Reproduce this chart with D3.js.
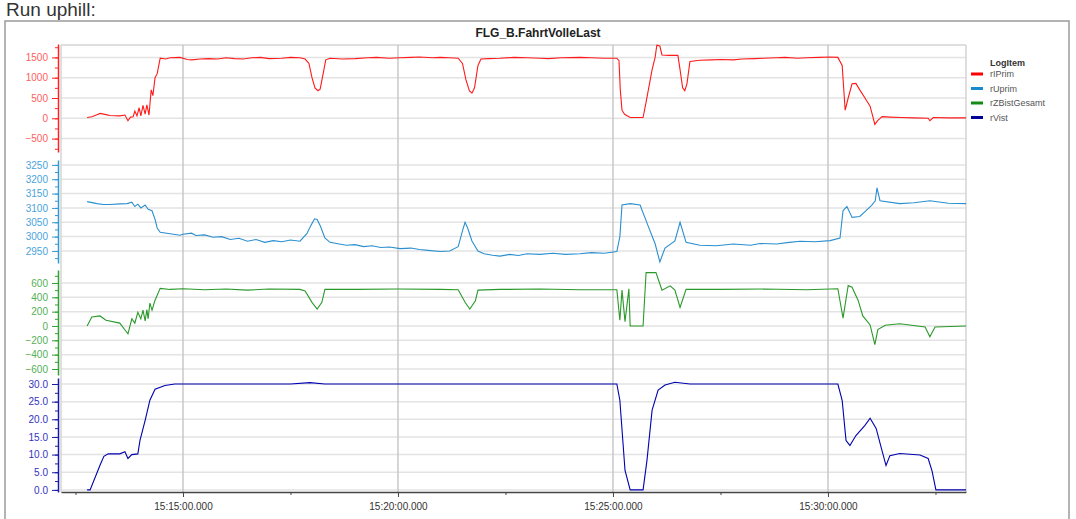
<!DOCTYPE html>
<html>
<head>
<meta charset="utf-8">
<script src="https://cdn.jsdelivr.net/npm/d3@7"></script>
<style>
  body { margin: 0; background: #fff; font-family: "Liberation Sans", Arial, sans-serif; }
</style>
</head>
<body>
<div id="chart"></div>
<script>
// values, time = minutes after 15:00
var rIPrim = [[12.77,20],[12.88,40],[13.00,90],[13.07,120],[13.21,90],[13.30,70],[13.53,60],[13.65,80],[13.72,-60],[13.78,30],[13.84,40],[13.88,180],[13.93,60],[13.98,260],[14.02,60],[14.07,320],[14.12,100],[14.16,330],[14.21,80],[14.26,700],[14.30,560],[14.35,1000],[14.40,1100],[14.47,1480],[14.60,1460],[14.70,1490],[14.93,1500],[15.10,1450],[15.20,1440],[15.40,1460],[15.60,1470],[15.80,1460],[16.00,1490],[16.20,1470],[16.40,1460],[16.60,1490],[16.80,1500],[17.00,1470],[17.30,1480],[17.50,1500],[17.72,1490],[17.84,1460],[17.93,1350],[18.00,1000],[18.07,750],[18.14,680],[18.19,720],[18.26,1100],[18.32,1440],[18.42,1480],[18.70,1460],[19.00,1470],[19.30,1490],[19.50,1500],[19.80,1480],[20.05,1490],[20.30,1500],[20.50,1510],[20.80,1490],[20.98,1500],[21.20,1490],[21.40,1480],[21.50,1350],[21.58,950],[21.66,680],[21.72,620],[21.78,750],[21.86,1300],[21.93,1460],[22.10,1470],[22.37,1480],[22.70,1500],[23.00,1490],[23.30,1480],[23.50,1470],[23.80,1490],[24.23,1500],[24.50,1490],[24.80,1480],[25.09,1480],[25.14,1420],[25.17,700],[25.21,200],[25.27,100],[25.40,20],[25.70,20],[25.77,400],[25.91,1200],[25.98,1500],[26.02,1800],[26.09,1780],[26.14,1560],[26.30,1550],[26.51,1550],[26.56,1200],[26.62,750],[26.67,680],[26.72,850],[26.79,1400],[27.02,1430],[27.30,1440],[27.50,1450],[27.80,1440],[28.00,1460],[28.30,1470],[28.50,1480],[28.80,1490],[29.00,1500],[29.30,1480],[29.50,1490],[29.80,1500],[30.05,1510],[30.23,1500],[30.33,1300],[30.40,200],[30.47,500],[30.56,850],[30.65,860],[30.74,700],[30.86,500],[30.98,300],[31.09,-150],[31.16,-50],[31.26,40],[31.44,30],[31.70,20],[32.00,10],[32.33,0],[32.37,-60],[32.45,20],[32.80,10],[33.21,10]]

var rUprim = [[12.77,3122],[13.00,3115],[13.15,3112],[13.30,3112],[13.53,3114],[13.70,3115],[13.81,3120],[13.88,3105],[13.95,3113],[14.02,3100],[14.12,3110],[14.19,3095],[14.28,3090],[14.35,3060],[14.40,3030],[14.47,3015],[14.70,3010],[14.93,3005],[15.00,3008],[15.20,3012],[15.30,3004],[15.50,3006],[15.70,2998],[15.90,3000],[16.10,2990],[16.30,2994],[16.50,2984],[16.70,2990],[16.90,2980],[17.10,2986],[17.30,2982],[17.50,2988],[17.72,2984],[17.88,3010],[17.98,3040],[18.06,3062],[18.12,3060],[18.20,3035],[18.30,2995],[18.42,2980],[18.60,2975],[18.80,2970],[19.00,2972],[19.20,2965],[19.40,2968],[19.60,2962],[19.80,2964],[20.05,2958],[20.30,2960],[20.50,2955],[20.70,2952],[20.98,2948],[21.20,2950],[21.40,2965],[21.50,3020],[21.56,3050],[21.62,3030],[21.72,2985],[21.86,2950],[22.00,2940],[22.20,2935],[22.37,2932],[22.60,2938],[22.80,2934],[23.00,2940],[23.30,2938],[23.60,2942],[23.90,2938],[24.23,2940],[24.50,2944],[24.80,2942],[25.09,2948],[25.16,3000],[25.21,3110],[25.40,3115],[25.63,3110],[25.81,3040],[25.98,2975],[26.09,2912],[26.21,2960],[26.44,2985],[26.56,3050],[26.70,2980],[27.02,2970],[27.40,2968],[27.80,2974],[28.20,2970],[28.42,2976],[28.80,2974],[29.10,2980],[29.35,2984],[29.70,2982],[30.05,2986],[30.28,2995],[30.35,3090],[30.44,3105],[30.56,3067],[30.74,3070],[30.88,3090],[31.02,3110],[31.10,3125],[31.14,3170],[31.21,3125],[31.67,3115],[32.00,3118],[32.37,3125],[32.80,3116],[33.21,3115]]

var rZBistGesamt = [[12.77,0],[12.88,125],[13.07,140],[13.21,80],[13.53,40],[13.67,-70],[13.72,-110],[13.81,100],[13.88,40],[13.95,190],[14.02,100],[14.07,220],[14.12,70],[14.16,230],[14.19,100],[14.23,320],[14.28,220],[14.35,360],[14.47,525],[14.70,510],[15.00,520],[15.50,505],[16.00,515],[16.50,500],[17.00,515],[17.72,510],[17.84,490],[18.00,330],[18.12,235],[18.23,330],[18.30,510],[19.00,510],[20.00,515],[20.98,510],[21.40,505],[21.56,330],[21.67,235],[21.80,350],[21.86,500],[22.37,510],[23.30,515],[24.23,505],[25.09,505],[25.16,80],[25.21,500],[25.28,60],[25.37,520],[25.40,0],[25.70,0],[25.77,745],[26.00,745],[26.14,500],[26.33,560],[26.44,500],[26.56,260],[26.70,510],[27.50,510],[28.50,515],[29.50,505],[30.23,520],[30.35,110],[30.47,565],[30.56,540],[30.70,360],[30.81,140],[30.98,15],[31.09,-260],[31.16,-50],[31.33,10],[31.67,30],[32.26,-15],[32.37,-150],[32.49,-15],[33.21,0]]

var rVist = [[12.77,0],[12.84,0],[13.07,7],[13.16,9.5],[13.26,10.2],[13.53,10.2],[13.65,10.8],[13.72,8.9],[13.81,10.0],[13.95,10.2],[14.00,14],[14.12,19.7],[14.23,25.4],[14.35,28.5],[14.58,29.6],[14.81,30],[15.50,30],[17.50,30],[17.95,30.4],[18.30,30],[20.00,30],[22.00,30],[24.00,30],[25.09,30],[25.16,25.4],[25.28,5.5],[25.40,0],[25.70,0],[25.79,8.3],[25.91,22.6],[26.05,28.3],[26.21,29.7],[26.44,30.5],[26.79,30],[28.00,30],[30.23,30],[30.33,25.4],[30.42,14],[30.51,12.6],[30.65,15.4],[30.86,18.3],[30.98,20.3],[31.12,17.4],[31.26,11],[31.35,6.9],[31.44,9.7],[31.67,10.3],[32.14,9.9],[32.33,8.9],[32.42,5.4],[32.51,0],[33.21,0]]

var seriesNames = ["rIPrim", "rUprim", "rZBistGesamt", "rVist"]
var seriesData = [rIPrim, rUprim, rZBistGesamt, rVist]
var majorTicks = [[-500,0,500,1000,1500],[2950,3000,3050,3100,3150,3200,3250],[-600,-400,-200,0,200,400,600],[0,5,10,15,20,25,30]]
var minorSteps = [250, 25, 100, 2.5]
var timeTicks = [15, 20, 25, 30]
var timeMinor = [12.5, 17.5, 22.5, 27.5, 32.5]

// layout
var svgWidth = 1076
var svgHeight = 519
var plotLeft = 61, plotRight = 966, plotTop = 45, plotBottom = 492
var axisX = 58
var panelDomains = [[-830,1830],[2908,3267],[-684,781],[-0.6,31.7]]
var panelRanges = [[152,44],[263,160],[375,270],[492,378]]
var lineColors = ["#ff1a1a", "#2b8fcf", "#2a992a", "#0000b0"]
var axisColors = ["#ff2222", "#3399d4", "#33a033", "#1a1aa8"]
var labelColors = ["#ff6060", "#4aa3dc", "#55b055", "#3333c0"]
var legendColors = ["#ff0000", "#1a8ad0", "#138a13", "#000099"]
var labelFormats = [d3.format("d"), d3.format("d"), d3.format("d"), d3.format(".1f")]

var base = new Date(2020, 0, 1, 15, 0, 0)
function toDate(m) { return new Date(base.getTime() + m * 60000) }

var svg = d3.select("#chart").append("svg")
    .attr("width", svgWidth)
    .attr("height", svgHeight)

// heading + frame
svg.append("text")
    .attr("x", 6).attr("y", 16)
    .style("font-size", "19px").style("fill", "#333")
    .text("Run uphill:")

svg.append("rect")
    .attr("x", 5).attr("y", 21)
    .attr("width", 1064).attr("height", 520)
    .attr("fill", "none").attr("stroke", "#9a9a9a").attr("stroke-width", 1.5)

svg.append("text")
    .attr("x", 538).attr("y", 37)
    .attr("text-anchor", "middle")
    .style("font-size", "12px").style("font-weight", "bold").style("fill", "#222")
    .text("FLG_B.FahrtVolleLast")

var x = d3.scaleTime()
    .domain([toDate(12.163), toDate(33.21)])
    .range([plotLeft, plotRight])

// horizontal grid per panel
var yScales = []
for (var i = 0; i < 4; ++i) {
    var y = d3.scaleLinear().domain(panelDomains[i]).range(panelRanges[i])
    yScales.push(y)
    svg.append("g").selectAll("line")
        .data(majorTicks[i])
        .enter().append("line")
        .attr("x1", plotLeft).attr("x2", plotRight)
        .attr("y1", function(d) { return y(d) })
        .attr("y2", function(d) { return y(d) })
        .attr("stroke", "#e3e3e3").attr("stroke-width", 1.5)
}

// plot border
svg.append("line").attr("x1", plotLeft).attr("x2", plotRight).attr("y1", plotTop).attr("y2", plotTop)
    .attr("stroke", "#d4d4d4").attr("stroke-width", 1.5)
svg.append("line").attr("x1", plotLeft).attr("x2", plotLeft).attr("y1", plotTop).attr("y2", plotBottom)
    .attr("stroke", "#d4d4d4").attr("stroke-width", 1.5)
svg.append("line").attr("x1", plotRight).attr("x2", plotRight).attr("y1", plotTop).attr("y2", plotBottom)
    .attr("stroke", "#d4d4d4").attr("stroke-width", 1.5)

// vertical grid
svg.append("g").selectAll("line")
    .data(timeTicks)
    .enter().append("line")
    .attr("x1", function(d) { return x(toDate(d)) })
    .attr("x2", function(d) { return x(toDate(d)) })
    .attr("y1", plotTop).attr("y2", plotBottom)
    .attr("stroke", "#c8c8c8").attr("stroke-width", 1.5)

// y axes
for (var i = 0; i < 4; ++i) {
    var y = yScales[i]
    var dom = panelDomains[i]
    var minor = d3.range(Math.ceil(dom[0] / minorSteps[i]) * minorSteps[i], dom[1], minorSteps[i])

    var gMinor = svg.append("g")
        .attr("transform", "translate(" + axisX + ",0)")
        .call(d3.axisLeft(y).tickValues(minor).tickSize(3).tickSizeOuter(0).tickFormat(""))
    gMinor.select(".domain").attr("stroke", axisColors[i]).attr("stroke-width", 1.5)
    gMinor.selectAll(".tick line").attr("stroke", axisColors[i])

    var g = svg.append("g")
        .attr("transform", "translate(" + axisX + ",0)")
        .call(d3.axisLeft(y).tickValues(majorTicks[i]).tickSize(6).tickSizeOuter(0)
            .tickPadding(4).tickFormat(labelFormats[i]))
    g.select(".domain").remove()
    g.selectAll(".tick line").attr("stroke", axisColors[i])
    g.selectAll(".tick text")
        .style("font-size", "10px")
        .style("font-family", "Liberation Sans, Arial, sans-serif")
        .attr("fill", labelColors[i])
}

// x axis
var gxMinor = svg.append("g")
    .attr("transform", "translate(0," + plotBottom + ")")
    .call(d3.axisBottom(x).tickValues(timeMinor.map(toDate)).tickSize(3).tickSizeOuter(0).tickFormat(""))
gxMinor.select(".domain").attr("stroke", "#444").attr("stroke-width", 1.5)
gxMinor.selectAll(".tick line").attr("stroke", "#444")

var gx = svg.append("g")
    .attr("transform", "translate(0," + plotBottom + ")")
    .call(d3.axisBottom(x).tickValues(timeTicks.map(toDate)).tickSize(5).tickSizeOuter(0)
        .tickPadding(6).tickFormat(d3.timeFormat("%H:%M:%S.%L")))
gx.select(".domain").remove()
gx.selectAll(".tick line").attr("stroke", "#444")
gx.selectAll(".tick text")
    .style("font-size", "10px")
    .style("font-family", "Liberation Sans, Arial, sans-serif")
    .attr("fill", "#333")

// series
for (var i = 0; i < 4; ++i) {
    var y = yScales[i]
    var line = d3.line()
        .x(function(d) { return x(toDate(d[0])) })
        .y(function(d) { return y(d[1]) })
    svg.append("path")
        .datum(seriesData[i])
        .attr("d", line)
        .attr("fill", "none")
        .attr("stroke", lineColors[i])
        .attr("stroke-width", 1.1)
}

// legend
svg.append("text")
    .attr("x", 990).attr("y", 66)
    .style("font-size", "9px").style("font-weight", "bold").style("fill", "#333")
    .text("LogItem")

var legend = svg.append("g").selectAll("g")
    .data(seriesNames)
    .enter().append("g")
    .attr("transform", function(d, i) { return "translate(971," + (74 + i * 14.5) + ")" })
legend.append("line")
    .attr("x1", 0).attr("x2", 12).attr("y1", 0).attr("y2", 0)
    .attr("stroke", function(d, i) { return legendColors[i] })
    .attr("stroke-width", 3)
legend.append("text")
    .attr("x", 19).attr("y", 3)
    .style("font-size", "9px").style("fill", "#555")
    .text(function(d) { return d })
</script>
</body>
</html>
